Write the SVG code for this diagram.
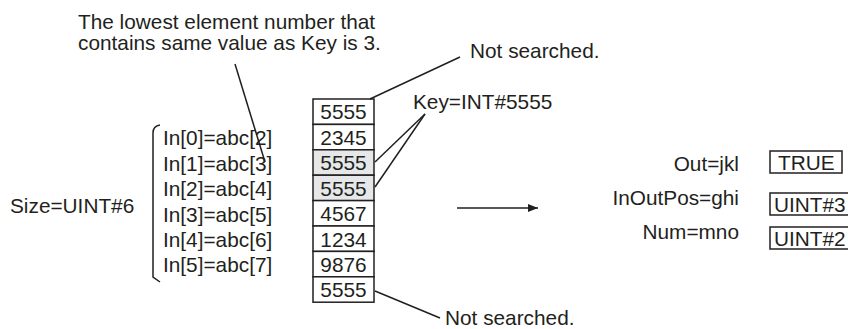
<svg xmlns="http://www.w3.org/2000/svg" width="848" height="329" viewBox="0 0 848 329">
<defs>
<style>
text{font-family:"Liberation Sans",Arial,sans-serif;font-size:20.8px;fill:#231f20}
.c{text-anchor:middle}
.r{text-anchor:end}
.cell{fill:#fff;stroke:#231f20;stroke-width:1.5}
.hl{fill:#e6e7e8}
.ln{fill:none;stroke:#231f20;stroke-width:1.5}
</style>
<marker id="ah" viewBox="0 0 10 8" refX="10" refY="4" markerWidth="10" markerHeight="8" markerUnits="userSpaceOnUse" orient="auto">
<path d="M0,0 L10,4 L0,8 Z" fill="#231f20"/>
</marker>
</defs>
<rect width="848" height="329" fill="#fff"/>

<g id="note">
<text x="78" y="29">The lowest element number that</text>
<text x="78" y="50">contains same value as Key is 3.</text>
</g>

<g id="size">
<text x="10" y="213">Size=UINT#6</text>
</g>

<g id="inputs">
<text x="163" y="145">In[0]=abc[2]</text>
<text x="163" y="170.5">In[1]=abc[3]</text>
<text x="163" y="196">In[2]=abc[4]</text>
<text x="163" y="221.5">In[3]=abc[5]</text>
<text x="163" y="247">In[4]=abc[6]</text>
<text x="163" y="272">In[5]=abc[7]</text>
</g>

<g id="array">
<rect class="cell" x="313" y="99" width="61" height="25.4"/>
<rect class="cell" x="313" y="124.4" width="61" height="25.4"/>
<rect class="cell hl" x="313" y="149.8" width="61" height="25.4"/>
<rect class="cell hl" x="313" y="175.2" width="61" height="25.4"/>
<rect class="cell" x="313" y="200.6" width="61" height="25.4"/>
<rect class="cell" x="313" y="226" width="61" height="25.4"/>
<rect class="cell" x="313" y="251.4" width="61" height="25.4"/>
<rect class="cell" x="313" y="276.8" width="61" height="25.4"/>
<text class="c" x="343.5" y="119">5555</text>
<text class="c" x="343.5" y="144.5">2345</text>
<text class="c" x="343.5" y="170">5555</text>
<text class="c" x="343.5" y="195.5">5555</text>
<text class="c" x="343.5" y="221">4567</text>
<text class="c" x="343.5" y="246.5">1234</text>
<text class="c" x="343.5" y="272">9876</text>
<text class="c" x="343.5" y="297">5555</text>
</g>

<g id="key">
<text x="413" y="109">Key=INT#5555</text>
</g>

<g id="notsearched-top">
<text x="470" y="58">Not searched.</text>
</g>

<g id="notsearched-bottom">
<text x="445" y="325">Not searched.</text>
</g>

<g id="outputs">
<text class="r" x="739" y="171">Out=jkl</text>
<text class="r" x="739" y="205">InOutPos=ghi</text>
<text class="r" x="739" y="239">Num=mno</text>
<rect class="cell" x="770" y="151" width="72" height="22"/>
<rect class="cell" x="770" y="193" width="82" height="22"/>
<rect class="cell" x="770" y="227" width="82" height="22"/>
<text x="778" y="170">TRUE</text>
<text x="774" y="212">UINT#3</text>
<text x="774" y="246">UINT#2</text>
</g>

<g id="connectors">
<path class="ln" d="M160,125 Q153,126 153,133 L153,277 L160,282"/>
<line class="ln" x1="235" y1="64" x2="265" y2="162"/>
<line class="ln" x1="370" y1="99" x2="460" y2="57"/>
<line class="ln" x1="425" y1="114" x2="375" y2="162"/>
<line class="ln" x1="425" y1="114" x2="375" y2="187"/>
<line class="ln" x1="375" y1="291" x2="440" y2="318"/>
<line class="ln" x1="457" y1="208" x2="538" y2="208" marker-end="url(#ah)"/>
</g>
</svg>
